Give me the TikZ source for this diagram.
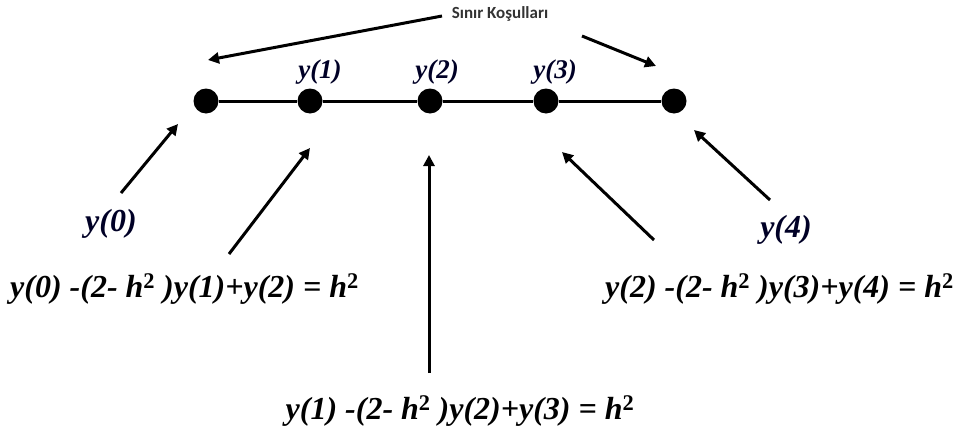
\documentclass[tikz,border=0pt]{standalone}
\usepackage{fontspec}
\setmainfont{Liberation Serif}
\newfontfamily\eqfont{Liberation Serif}
\newfontfamily\capfont{Carlito}
\usetikzlibrary{arrows.meta}
\tikzset{
  dotnode/.style={circle,fill=black,inner sep=0pt,minimum size=25pt},
  arr/.style={line width=3pt,-{Triangle[length=11pt,width=11pt]}},
  ylab/.style={font=\eqfont\fontsize{27}{29}\selectfont\bfseries\itshape,text=black!85!blue,inner sep=0pt},
  ybig/.style={font=\eqfont\fontsize{32}{34}\selectfont\bfseries\itshape,text=black!85!blue,inner sep=0pt},
  eqlab/.style={font=\eqfont\fontsize{32}{35}\selectfont\bfseries\itshape,inner sep=0pt},
}
\newcommand{\hsq}{h\textsuperscript{\upshape 2}}
\begin{document}
\begin{tikzpicture}[x=1pt,y=-1pt]
\useasboundingbox (0,0) rectangle (959,434);
% nodes
\node[dotnode] (d0) at (206,101) {};
\node[dotnode] (d1) at (310,101) {};
\node[dotnode] (d2) at (430,101) {};
\node[dotnode] (d3) at (546,101) {};
\node[dotnode] (d4) at (674,101) {};
\draw[line width=3pt] (d0) -- (d1) -- (d2) -- (d3) -- (d4);
% labels
\node[ylab] (l1) at (320,72) {y(1)};
\node[ylab] (l2) at (437,72) {y(2)};
\node[ylab] (l3) at (555,72) {y(3)};
\node[ybig] (l0) at (111,224) {y(0)};
\node[ybig] (l4) at (786,230) {y(4)};
\node[font=\capfont\bfseries\fontsize{17}{19}\selectfont,text=black!80,inner sep=1pt] (bc) at (500,14) {Sınır Koşulları};
% equations
\node[eqlab,anchor=west] (e1) at (10,289) {y(0) -(2- \hsq\ )y(1)+y(2) = \hsq};
\node[eqlab,anchor=east] (e3) at (954,289) {y(2) -(2- \hsq\ )y(3)+y(4) = \hsq};
\node[eqlab] (e2) at (460,411) {y(1) -(2- \hsq\ )y(2)+y(3) = \hsq};
% arrow coordinates
\coordinate (t0) at (178,124);
\coordinate (t1) at (310,148);
\coordinate (t2) at (429,155);
\coordinate (t3) at (562,152);
\coordinate (t4) at (694,130);
\coordinate (tl) at (208,60);
\coordinate (tr) at (656,66);
\coordinate (s0) at (121,193);
\coordinate (s1) at (229,254);
\coordinate (s2) at (429,373);
\coordinate (s3) at (654,240);
\coordinate (s4) at (770,200);
\coordinate (sl) at (442,16);
\coordinate (sr) at (582,36);
\draw[arr] (s0) -- (t0);
\draw[arr] (s1) -- (t1);
\draw[arr] (s2) -- (t2);
\draw[arr] (s3) -- (t3);
\draw[arr] (s4) -- (t4);
\draw[arr] (sl) -- (tl);
\draw[arr] (sr) -- (tr);
\end{tikzpicture}
\end{document}
